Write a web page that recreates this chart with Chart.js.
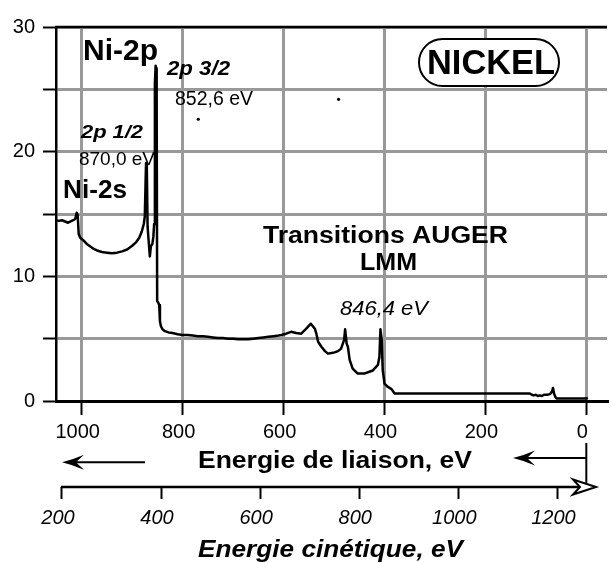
<!DOCTYPE html>
<html>
<head>
<meta charset="utf-8">
<script src="https://cdn.jsdelivr.net/npm/chart.js@4.4.1/dist/chart.umd.min.js"></script>
<style>
html, body { margin: 0; padding: 0; background: #fff; }
</style>
</head>
<body>
<canvas id="chart" width="611" height="563"></canvas>
<script>
// XPS survey of nickel: binding energy (eV) / intensity (a.u.)
var bindingEnergy = [1051, 1045, 1039, 1033, 1027, 1022, 1017, 1013, 1010, 1008, 1006, 1003, 997, 990, 983, 976, 968, 960, 950, 940, 930, 920, 910, 900, 892, 886, 881, 877, 875, 873.5, 872.5, 871, 869.5, 867.5, 865, 863, 860, 858, 856.5, 855, 853.5, 852.5, 851.5, 850.5, 848.5, 846.5, 845, 843, 840, 835, 828, 820, 810, 800, 790, 780, 770, 760, 750, 740, 730, 720, 710, 700, 690, 680, 670, 660, 650, 640, 630, 620, 610, 604, 595, 585, 575, 565, 555, 546, 542, 538, 535, 531.5, 525, 518, 512, 505, 499, 492, 486, 480, 478, 475, 472.5, 469, 463, 453, 440, 430, 423, 413, 410, 408, 405.5, 403.5, 400, 394, 386, 380, 370, 300, 200, 112, 108, 104, 100, 96, 92, 88, 84, 78, 72, 68, 66, 64, 61, 59, 40, 20, 0, -3];
var intensity = [14.5, 14.45, 14.5, 14.4, 14.3, 14.4, 14.5, 14.6, 15.1, 14.9, 13.4, 13.1, 12.9, 12.6, 12.4, 12.2, 12.05, 11.95, 11.9, 11.85, 11.9, 12.0, 12.15, 12.45, 12.75, 13.1, 13.6, 14.2, 14.8, 17.5, 19.1, 18.8, 14.0, 12.9, 11.6, 12.4, 12.6, 13.2, 14.2, 25.5, 26.9, 26.7, 24.5, 8.0, 7.9, 7.7, 6.4, 6.0, 5.75, 5.6, 5.5, 5.45, 5.35, 5.3, 5.3, 5.25, 5.2, 5.2, 5.15, 5.1, 5.05, 5.05, 5.0, 5.0, 4.95, 4.95, 4.95, 5.0, 5.05, 5.1, 5.15, 5.2, 5.25, 5.3, 5.4, 5.55, 5.45, 5.4, 5.8, 6.2, 6.0, 5.8, 5.4, 4.75, 4.35, 4.0, 3.8, 3.85, 3.9, 4.0, 4.2, 4.9, 5.75, 4.6, 4.35, 3.3, 2.6, 2.2, 2.2, 2.35, 2.45, 2.9, 3.55, 5.75, 4.9, 2.5, 1.4, 1.15, 0.95, 0.6, 0.6, 0.6, 0.6, 0.6, 0.5, 0.45, 0.5, 0.4, 0.45, 0.4, 0.5, 0.5, 0.55, 0.75, 1.05, 0.6, 0.3, 0.2, 0.2, 0.2, 0.2, 0.25];
var strayEnergy = [769, 491];
var strayIntensity = [22.6, 24.2];

var bindingTicks = [0, 200, 400, 600, 800, 1000];
var kineticTicks = [200, 400, 600, 800, 1000, 1200];
var intensityTicks = [0, 5, 10, 15, 20, 25, 30];
var intensityLabels = [0, 10, 20, 30];

var FONT = "'Liberation Sans', Arial, sans-serif";

function toPoints(xs, ys) {
    return xs.map(function (v, i) { return { x: v, y: ys[i] }; });
}

function fixTicks(values) {
    return function (scale) {
        scale.ticks = values.map(function (v) { return { value: v }; });
    };
}

function plainLabel(v) {
    return String(v);
}

// text squeezed/stretched to the width measured on the reference
function drawText(ctx, str, font, left, base, width) {
    ctx.save();
    ctx.font = font;
    var w = ctx.measureText(str).width;
    ctx.translate(left, base);
    ctx.scale(width ? width / w : 1, 1);
    ctx.textAlign = "left";
    ctx.textBaseline = "alphabetic";
    ctx.fillStyle = "#000";
    ctx.fillText(str, 0, 0);
    ctx.restore();
}

function stealthArrow(ctx, tipX, y, dir) {
    var L = 22, H = 7.5, N = 14;
    ctx.beginPath();
    ctx.moveTo(tipX, y);
    ctx.quadraticCurveTo(tipX - dir * L * 0.5, y - H * 0.35, tipX - dir * L, y - H);
    ctx.lineTo(tipX - dir * N, y);
    ctx.lineTo(tipX - dir * L, y + H);
    ctx.quadraticCurveTo(tipX - dir * L * 0.5, y + H * 0.35, tipX, y);
    ctx.closePath();
    ctx.fill();
}

var decorations = {
    id: "decorations",
    afterDraw: function (chart) {
        var ctx = chart.ctx;
        var area = chart.chartArea;
        var sx = chart.scales.x, sk = chart.scales.x2;
        ctx.save();
        ctx.strokeStyle = "#000";
        ctx.fillStyle = "#000";

        // top frame
        ctx.lineWidth = 2.5;
        ctx.beginPath();
        ctx.moveTo(area.left - 1, area.top);
        ctx.lineTo(area.right, area.top);
        ctx.stroke();

        // NICKEL box
        ctx.lineWidth = 2;
        ctx.beginPath();
        ctx.roundRect(419, 39, 140, 47, 23.5);
        ctx.fillStyle = "#fff";
        ctx.fill();
        ctx.stroke();
        ctx.fillStyle = "#000";
        drawText(ctx, "NICKEL", "bold 35px " + FONT, 427, 73.5, 128);

        // peak labels
        drawText(ctx, "Ni-2p", "bold 29px " + FONT, 83, 60, 75);
        drawText(ctx, "2p 3/2", "italic bold 20px " + FONT, 167, 75, 63);
        drawText(ctx, "852,6 eV", "20px " + FONT, 175, 105, 78);
        drawText(ctx, "2p 1/2", "italic bold 19px " + FONT, 81, 137.5, 62);
        drawText(ctx, "870,0 eV", "19px " + FONT, 79, 165, 76);
        drawText(ctx, "Ni-2s", "bold 25px " + FONT, 63, 198.3, 64);
        drawText(ctx, "Transitions AUGER", "bold 23px " + FONT, 263, 243.3, 245);
        drawText(ctx, "LMM", "bold 23px " + FONT, 360, 270, 57);
        drawText(ctx, "846,4 eV", "italic 21px " + FONT, 340, 315, 88);

        // axis titles
        drawText(ctx, "Energie de liaison, eV", "bold 23px " + FONT, 198, 468.3, 274);
        drawText(ctx, "Energie cinétique, eV", "italic bold 23px " + FONT, 198, 556.7, 265);

        // direction arrows
        var x0 = sx.getPixelForValue(0);
        ctx.lineWidth = 2;
        ctx.beginPath();
        ctx.moveTo(145, 462.3);
        ctx.lineTo(70, 462.3);
        ctx.stroke();
        stealthArrow(ctx, 62, 462.3, -1);

        ctx.beginPath();
        ctx.moveTo(x0, 458);
        ctx.lineTo(520, 458);
        ctx.stroke();
        stealthArrow(ctx, 513, 458, -1);

        ctx.beginPath();
        ctx.moveTo(x0, 443);
        ctx.lineTo(x0, sk.top);
        ctx.stroke();

        // kinetic energy axis line with open head
        var ky = sk.top;
        ctx.lineWidth = 2.5;
        ctx.beginPath();
        ctx.moveTo(sk.getPixelForValue(200) - 1, ky);
        ctx.lineTo(590, ky);
        ctx.stroke();
        ctx.lineWidth = 2;
        ctx.beginPath();
        ctx.moveTo(573, ky - 7.5);
        ctx.lineTo(596, ky);
        ctx.lineTo(573, ky + 7.5);
        ctx.lineTo(580, ky);
        ctx.closePath();
        ctx.fillStyle = "#fff";
        ctx.fill();
        ctx.stroke();

        ctx.restore();
    }
};

new Chart(document.getElementById("chart"), {
    type: "line",
    data: {
        datasets: [
            {
                data: toPoints(bindingEnergy, intensity),
                borderColor: "#000",
                borderWidth: 2.5,
                pointRadius: 0,
                tension: 0,
                borderJoinStyle: "round",
                xAxisID: "x"
            },
            {
                data: toPoints(strayEnergy, strayIntensity),
                showLine: false,
                pointRadius: 1.6,
                pointBackgroundColor: "#000",
                pointBorderWidth: 0,
                xAxisID: "x"
            }
        ]
    },
    options: {
        responsive: false,
        animation: false,
        devicePixelRatio: 1,
        layout: { padding: { top: 27, right: 0, left: 0, bottom: 0 } },
        plugins: {
            legend: { display: false },
            tooltip: { enabled: false }
        },
        scales: {
            x: {
                type: "linear",
                position: "bottom",
                reverse: true,
                min: -41,
                max: 1051,
                weight: 0,
                afterBuildTicks: fixTicks(bindingTicks),
                afterFit: function (scale) { scale.height = 86; },
                grid: {
                    color: "#999",
                    lineWidth: 3,
                    tickColor: "#000",
                    tickLength: 14,
                    tickWidth: 2
                },
                border: { color: "#000", width: 3 },
                ticks: {
                    color: "#000",
                    font: { family: FONT, size: 20 },
                    padding: 5,
                    labelOffset: -4,
                    maxRotation: 0,
                    autoSkip: false,
                    callback: plainLabel
                }
            },
            x2: {
                type: "linear",
                position: "bottom",
                min: 188,
                max: 1300,
                weight: 1,
                afterBuildTicks: fixTicks(kineticTicks),
                afterFit: function (scale) { scale.height = 76; },
                grid: {
                    drawOnChartArea: false,
                    tickColor: "#000",
                    tickLength: 12,
                    tickWidth: 2
                },
                border: { display: false },
                ticks: {
                    color: "#000",
                    font: { family: FONT, size: 20, style: "italic" },
                    padding: 7,
                    labelOffset: -4,
                    maxRotation: 0,
                    autoSkip: false,
                    callback: plainLabel
                }
            },
            y: {
                min: 0,
                max: 30,
                afterBuildTicks: fixTicks(intensityTicks),
                afterFit: function (scale) { scale.width = 56; },
                grid: {
                    color: "#999",
                    lineWidth: 3,
                    tickColor: "#000",
                    tickLength: 13,
                    tickWidth: 2
                },
                border: { color: "#000", width: 2.5 },
                ticks: {
                    color: "#000",
                    font: { family: FONT, size: 20 },
                    padding: 8,
                    callback: function (v) {
                        return intensityLabels.indexOf(v) >= 0 ? String(v) : "";
                    }
                }
            }
        }
    },
    plugins: [decorations]
});
</script>
</body>
</html>
